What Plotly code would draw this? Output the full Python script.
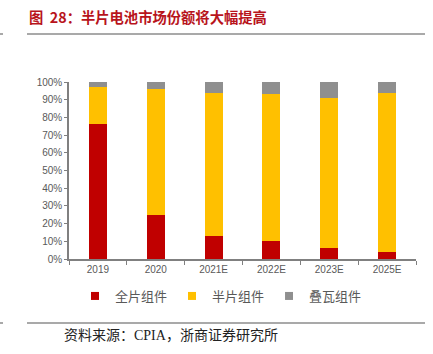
import plotly.graph_objects as go

years = ["2019", "2020", "2021E", "2022E", "2023E", "2025E"]
full_cell = [76.5, 25, 13, 10, 6, 4]
half_cell = [20.7, 71, 81, 83, 85, 90]
shingled = [2.8, 4, 6, 7, 9, 6]

W, H = 433, 354
L, R, T, B = 69, 416, 82, 259

def px(x):
    return (x - L) / (R - L)

def py(y):
    return (B - y) / (B - T)

fig = go.Figure()
series = [("全片组件", full_cell, "#C00000"),
          ("半片组件", half_cell, "#FFC000"),
          ("叠瓦组件", shingled, "#8F8F8F")]
for name, vals, col in series:
    fig.add_trace(go.Bar(x=years, y=vals, name=name, legendgroup=name, showlegend=False,
                         marker=dict(color=col, line=dict(width=0))))
for name, vals, col in series:
    fig.add_trace(go.Scatter(x=[None], y=[None], mode="markers", name=name, legendgroup=name,
                             marker=dict(symbol="square", size=8, color=col)))

fig.update_layout(
    width=W, height=H,
    barmode="stack", bargap=0.69,
    margin=dict(l=L, r=W - R, t=T, b=H - B, pad=0),
    plot_bgcolor="white", paper_bgcolor="white",
    font=dict(family="Liberation Sans, Arial", color="#595959", size=10),
    showlegend=True,
    legend=dict(orientation="h", x=px(75), xanchor="left", y=py(296), yanchor="middle",
                font=dict(family="Noto Sans CJK SC", size=13, color="#595959"),
                itemwidth=30, traceorder="normal"),
    xaxis=dict(showline=True, linecolor="#808080", linewidth=1.5, ticks="outside",
               tickson="boundaries", ticklen=4, tickcolor="#808080",
               tickfont=dict(size=10, color="#595959"), showgrid=False),
    yaxis=dict(range=[0, 100], dtick=10, ticksuffix="%", showline=True, linecolor="#808080",
               linewidth=1.5, ticks="outside", ticklen=3, tickcolor="#808080",
               tickfont=dict(size=10, color="#595959"), showgrid=False, zeroline=False),
)

fig.add_annotation(text="<b>图  28：半片电池市场份额将大幅提高</b>", xref="paper", yref="paper",
                   x=px(27), y=py(17), xanchor="left", yanchor="middle", showarrow=False,
                   font=dict(family="Noto Sans CJK SC", size=14.3, color="#B8141C"))
fig.add_annotation(text="资料来源：CPIA，浙商证券研究所", xref="paper", yref="paper",
                   x=px(62), y=py(335), xanchor="left", yanchor="middle", showarrow=False,
                   font=dict(family="Liberation Serif, Noto Sans CJK SC", size=14, color="#222222"))
for yy in (34, 323):
    fig.add_shape(type="line", xref="paper", yref="paper", x0=px(27), x1=px(425), y0=py(yy), y1=py(yy),
                  line=dict(color="#8C8C8C", width=1.5))
    fig.add_shape(type="line", xref="paper", yref="paper", x0=px(0), x1=px(3), y0=py(yy), y1=py(yy),
                  line=dict(color="#8C8C8C", width=1.5))

fig.write_html("out.html")
